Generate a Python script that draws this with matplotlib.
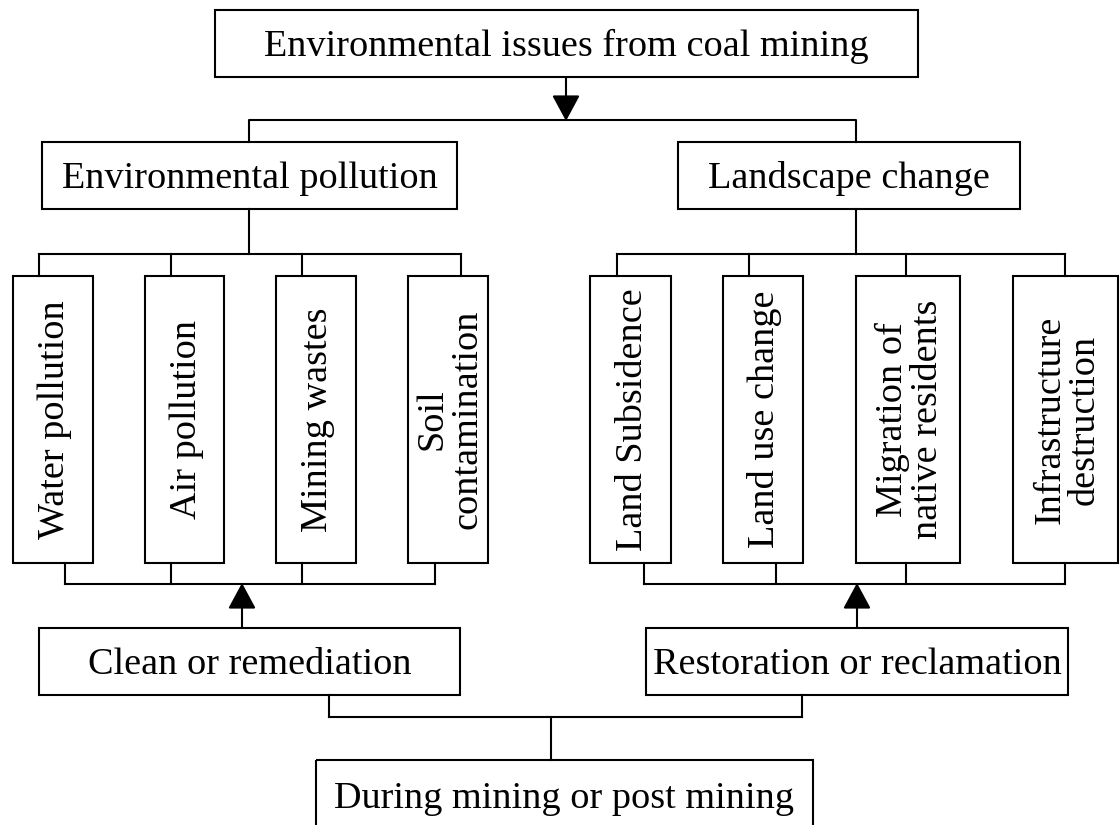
import matplotlib
matplotlib.use("Agg")
import matplotlib.pyplot as plt
from matplotlib.patches import Rectangle, FancyArrowPatch

# ---- content ----
root_label = "Environmental issues from coal mining"
group_labels = ["Environmental pollution", "Landscape change"]
pollution_items = ["Water pollution", "Air pollution", "Mining wastes", "Soil\ncontamination"]
landscape_items = ["Land Subsidence", "Land use change", "Migration of\nnative residents", "Infrastructure\ndestruction"]
action_labels = ["Clean or remediation", "Restoration or reclamation"]
source_label = "During mining or post mining"

# ---- layout (pixel coordinates, y downward) ----
W, H = 1120, 825
root_box = (215, 10, 918, 77)
group_boxes = [(42, 142, 457, 209), (678, 142, 1020, 209)]
item_boxes = [
    [(13, 276, 93, 563), (145, 276, 224, 563), (276, 276, 356, 563), (408, 276, 488, 563)],
    [(590, 276, 671, 563), (723, 276, 803, 563), (856, 276, 960, 563), (1013, 276, 1118, 563)],
]
item_top_x = [[39, 171, 302, 461], [617, 749, 906, 1065]]
item_bot_x = [[65, 171, 302, 435], [644, 776, 906, 1065]]
group_stem_x = [249, 856]
up_arrow_x = [242, 857]
action_boxes = [(39, 628, 460, 695), (646, 628, 1068, 695)]
action_stem_x = [329, 802]
source_box = (316, 760, 813, 840)
source_stem_x = 551

FS = 27.5
FONT = "Liberation Serif"
LW = 1.5
CAP_HALF = 12.5

fig = plt.figure(figsize=(W / 100, H / 100), dpi=100)
ax = fig.add_axes([0, 0, 1, 1])
ax.set_xlim(0, W)
ax.set_ylim(H, 0)
ax.axis("off")


def rect(b):
    x0, y0, x1, y1 = b
    ax.add_patch(Rectangle((x0, y0), x1 - x0, y1 - y0, fill=False, ec="black", lw=LW))


def hbox(b, text, baseline=None):
    rect(b)
    x0, y0, x1, y1 = b
    yb = (y0 + y1) / 2 + CAP_HALF if baseline is None else baseline
    ax.text((x0 + x1) / 2, yb, text, ha="center", va="baseline", fontsize=FS, family=FONT)


def vbox(b, text):
    rect(b)
    x0, y0, x1, y1 = b
    ax.text((x0 + x1) / 2 + 2, (y0 + y1) / 2, text, ha="center", va="center",
            rotation=90, fontsize=FS, family=FONT, linespacing=1.0, multialignment="center")


def line(xs, ys):
    ax.plot(xs, ys, color="black", lw=LW, solid_capstyle="projecting")


def arrow(x, y0, y1):
    ax.add_patch(FancyArrowPatch((x, y0), (x, y1), arrowstyle="-|>,head_length=1.15,head_width=0.62",
                                 mutation_scale=14, color="black", lw=LW, shrinkA=0, shrinkB=0))


# root
hbox(root_box, root_label)
rx = 566
arrow(rx, root_box[3], 121)
line([group_stem_x[0], group_stem_x[0], group_stem_x[1], group_stem_x[1]],
     [group_boxes[0][1], 120, 120, group_boxes[1][1]])

for g in range(2):
    hbox(group_boxes[g], group_labels[g])
    items = pollution_items if g == 0 else landscape_items
    line([group_stem_x[g], group_stem_x[g]], [group_boxes[g][3], 254])
    line([item_top_x[g][0], item_top_x[g][-1]], [254, 254])
    for i, lab in enumerate(items):
        b = item_boxes[g][i]
        vbox(b, lab)
        line([item_top_x[g][i], item_top_x[g][i]], [254, b[1]])
        line([item_bot_x[g][i], item_bot_x[g][i]], [b[3], 584])
    line([item_bot_x[g][0], item_bot_x[g][-1]], [584, 584])
    arrow(up_arrow_x[g], action_boxes[g][1], 583)
    hbox(action_boxes[g], action_labels[g])
    line([action_stem_x[g], action_stem_x[g]], [action_boxes[g][3], 717])

line([action_stem_x[0], action_stem_x[1]], [717, 717])
line([source_stem_x, source_stem_x], [717, source_box[1]])
hbox(source_box, source_label, baseline=808)

fig.savefig("out.png", dpi=100, facecolor="white")
